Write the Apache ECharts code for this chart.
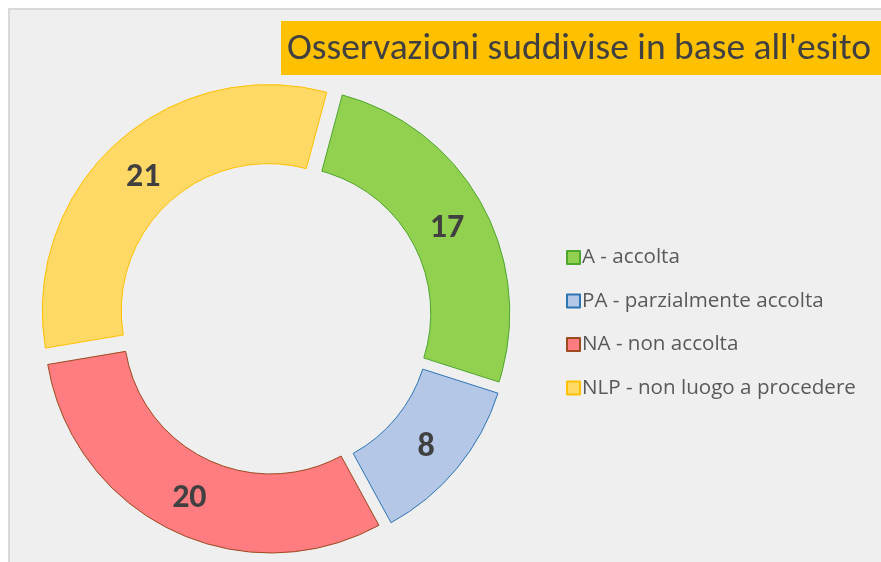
<!DOCTYPE html>
<html>
<head>
<meta charset="utf-8">
<script src="https://cdn.jsdelivr.net/npm/echarts@6/dist/echarts.min.js"></script>
<style>
  body { margin: 0; background: #fff; }
  #esitoChart { width: 881px; height: 562px; }
</style>
</head>
<body>
<div id="esitoChart"></div>
<script>
const chartTitle = "Osservazioni suddivise in base all'esito";
const categories = ['A - accolta', 'PA - parzialmente accolta', 'NA - non accolta', 'NLP - non luogo a procedere'];
const values = [17, 8, 20, 21];
const fillColors = ['#92D050', '#B4C7E7', '#FF7C80', '#FFD966'];
const borderColors = ['#4EA72E', '#2E75B6', '#9C4A1E', '#FFC000'];

const fontStack = 'Carlito, Lato, sans-serif';
const startDeg = 15; // first slice starts 15 deg clockwise from 12 o'clock

const chartEsito = echarts.init(document.getElementById('esitoChart'));

const total = values.reduce((a, b) => a + b, 0);
// mid angle of each slice, used to nudge the labels a bit towards the centre
let cum = 0;
const midAngles = values.map((v) => {
    let mid = (startDeg + (cum + v / 2) / total * 360) * Math.PI / 180;
    cum += v;
    return mid;
});

let pieData = values.map((v, i) => ({
    name: categories[i],
    value: v,
    selected: true,
    itemStyle: { color: fillColors[i], borderColor: borderColors[i], borderWidth: 1 }
}));

let option = {
    backgroundColor: '#ffffff',
    animation: false,
    graphic: [
        { type: 'rect', z: -10, shape: { x: 9, y: 9, width: 880, height: 560 },
          style: { fill: '#efefef', stroke: '#d9d9d9', lineWidth: 2 } },
        { type: 'rect', z: -5, shape: { x: 281, y: 21, width: 600, height: 54 },
          style: { fill: '#FFC000' } }
    ],
    title: {
        text: chartTitle,
        left: 287,
        top: 30,
        padding: 0,
        textStyle: { fontFamily: fontStack, fontWeight: 'normal', fontSize: 37.5, lineHeight: 40, color: '#404040' }
    },
    legend: {
        orient: 'vertical',
        left: 566,
        top: 247,
        padding: 0,
        icon: 'rect',
        itemWidth: 13,
        itemHeight: 13,
        itemGap: 22.5,
        selectedMode: false,
        data: categories,
        textStyle: { fontFamily: '"Open Sans", sans-serif', fontSize: 20.6, lineHeight: 20, color: '#595959', padding: [0, 0, 0, -3] }
    },
    series: [{
        type: 'pie',
        center: [275, 318],
        radius: [147, 226],
        startAngle: 90 - startDeg,
        clockwise: true,
        selectedMode: 'multiple',
        selectedOffset: 10,
        avoidLabelOverlap: false,
        emphasis: { disabled: true },
        label: {
            show: true,
            position: 'inside',
            formatter: '{c}',
            fontFamily: fontStack,
            fontWeight: 'bold',
            fontSize: 34,
            color: '#404040'
        },
        labelLayout: (params) => {
            let mid = midAngles[params.dataIndex];
            return { dx: -3.5 * Math.sin(mid), dy: 3.5 * Math.cos(mid) + 4.5 };
        },
        labelLine: { show: false },
        data: pieData
    }]
};

chartEsito.setOption(option);
</script>
</body>
</html>
